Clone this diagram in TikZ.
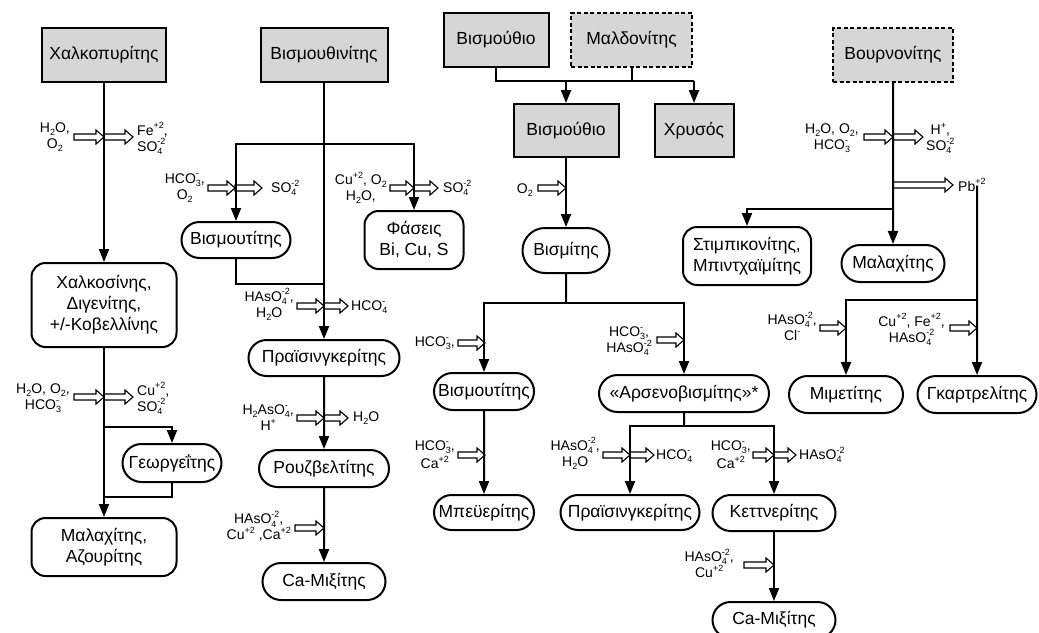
\documentclass[tikz,border=0pt]{standalone}
\usepackage{fontspec}
\setmainfont{Liberation Sans}
\usetikzlibrary{arrows.meta,shapes.misc}
\definecolor{ore}{RGB}{214,214,214}
\newcommand{\nodefont}{\fontsize{17.5}{21}\selectfont}
\newcommand{\chemfont}{\fontsize{14}{16}\selectfont}
\newcommand{\idxfont}{\fontsize{9}{9}\selectfont}
\newcommand{\ssub}[1]{\raisebox{-3pt}{\idxfont #1}}
\newcommand{\ssup}[1]{\raisebox{6.5pt}{\idxfont #1}}
\newcommand{\ion}[2]{\ooalign{\ssub{#1}\cr\ssup{#2}}}
\tikzset{
  >={Triangle[length=13pt,width=10pt]},
  mineral/.style={draw,fill=ore,line width=2pt,minimum width=#1,minimum height=54,
    font=\nodefont,inner sep=2pt},
  uncertain/.style={mineral=#1,dash pattern=on 4pt off 2.5pt},
  phase/.style={rounded rectangle,draw,line width=2pt,minimum width=#1,minimum height=37,
    font=\nodefont,inner sep=2pt},
  phasebox/.style={draw,rounded corners=14pt,line width=2pt,minimum width=#1,align=center,
    font=\nodefont,inner sep=2pt},
  flow/.style={->,line width=2pt},
  wire/.style={line width=2pt},
  chem/.style={font=\chemfont,align=center,inner sep=0pt},
  % hollow reagent arrow, #1 = length
  pics/hol/.style={code={
    \draw[line width=1.1pt,fill=white] (0,-3) -- ({#1-8},-3) -- ({#1-8},-7) -- (#1,0)
      -- ({#1-8},7) -- ({#1-8},3) -- (0,3) -- cycle;
  }},
}
\begin{document}
\begin{tikzpicture}[x=1pt,y=-1pt]
  \useasboundingbox (0,0) rectangle (1039,632);
  % primary minerals
  \node[mineral=124] (chalko) at (104,55) {Χαλκοπυρίτης};
  \node[mineral=127] (bismuthin) at (324,55) {Βισμουθινίτης};
  \node[mineral=105] (bi1) at (496,40) {Βισμούθιο};
  \node[uncertain=121] (mald) at (631.5,40) {Μαλδονίτης};
  \node[mineral=105,minimum height=53] (bi2) at (566,130.5) {Βισμούθιο};
  \node[mineral=79,minimum height=53] (gold) at (694,130.5) {Χρυσός};
  \node[uncertain=120] (bourn) at (893,55) {Βουρνονίτης};
  % secondary phases
  \node[phasebox=145,minimum height=84] (chalkos) at (104,305) {Χαλκοσίνης,\\Διγενίτης,\\+/-Κοβελλίνης};
  \node[phase=103,minimum height=38] (georg) at (172,463) {Γεωργεΐτης};
  \node[phasebox=145,minimum height=58] (malaz) at (104,547) {Μαλαχίτης,\\Αζουρίτης};
  \node[phase=113,minimum height=36] (bismut1) at (236,240) {Βισμουτίτης};
  \node[phasebox=99,minimum height=58] (phases) at (414,240) {Φάσεις\\Bi, Cu, S};
  \node[phase=155,minimum height=36] (prais1) at (324,358) {Πραϊσινγκερίτης};
  \node[phase=134] (rouz) at (324,468.5) {Ρουζβελτίτης};
  \node[phase=127] (camix1) at (324,581.5) {Ca-Μιξίτης};
  \node[phase=91,minimum height=45] (bismit) at (566,250.5) {Βισμίτης};
  \node[phase=104] (bismut2) at (484,391.5) {Βισμουτίτης};
  \node[phase=174] (arsen) at (684,393.5) {«Αρσενοβισμίτης»*};
  \node[phase=104,minimum height=35] (beyer) at (484,512.5) {Μπεϋερίτης};
  \node[phase=143,minimum height=35] (prais2) at (630,512.5) {Πραϊσινγκερίτης};
  \node[phase=127,minimum height=36] (kettn) at (774,513) {Κεττνερίτης};
  \node[phase=127,minimum height=36] (camix2) at (774,620) {Ca-Μιξίτης};
  \node[phasebox=128,minimum height=58] (stib) at (747,256) {Στιμπικονίτης,\\Μπιντχαϊμίτης};
  \node[phase=107] (malach2) at (893,263.5) {Μαλαχίτης};
  \node[phase=118] (mimet) at (846,394.5) {Μιμετίτης};
  \node[phase=123] (gkart) at (977,394.5) {Γκαρτρελίτης};

  % reagent arrows
  \foreach \x/\y/\l in {74/137/30,104/137/29,74/397/30,104/397/29,208/188/27,235/188/27,
      390/188/24,414/188/24,297/306/27,324/306/24,297/418/27,324/418/24,295/528/29,
      538/188/28,458/343/27,657/340/27,458/455/27,603/455/27,630/455/24,753/455/21,
      774/455/22,744/565/30,864/137/29,893/137/30,893/185/60,820/328/26,950/328/27}
    \pic at (\x,\y) {hol=\l};

  % reagents in / out
  \node[chem,anchor=east] (in1) at (70,137) {H\ssub{2}O,\\O\ssub{2}};
  \node[chem,anchor=west,align=left] (out1) at (137,137) {Fe\ssup{+2},\\SO\ion{4}{-2}};
  \node[chem,anchor=east] (in2) at (70,397) {H\ssub{2}O, O\ssub{2},\\HCO\ion{3}{-}};
  \node[chem,anchor=west,align=left] (out2) at (137,397) {Cu\ssup{+2},\\SO\ion{4}{-2}};
  \node[chem,anchor=east] (in3) at (205,188) {HCO\ion{3}{-},\\O\ssub{2}};
  \node[chem,anchor=west] (out3) at (271,188) {SO\ion{4}{-2}};
  \node[chem,anchor=east] (in4) at (387,188) {Cu\ssup{+2}, O\ssub{2}\\H\ssub{2}O,};
  \node[chem,anchor=west] (out4) at (443,188) {SO\ion{4}{-2}};
  \node[chem,anchor=east] (in5) at (294,306) {HAsO\ion{4}{-2},\\H\ssub{2}O};
  \node[chem,anchor=west] (out5) at (351,306) {HCO\ion{4}{-}};
  \node[chem,anchor=east] (in6) at (294,418) {H\ssub{2}AsO\ion{4}{-},\\H\ssup{+}};
  \node[chem,anchor=west] (out6) at (353,418) {H\ssub{2}O};
  \node[chem,anchor=east] (in7) at (291,528) {HAsO\ion{4}{-2},\\Cu\ssup{+2} ,Ca\ssup{+2}};
  \node[chem,anchor=east] (in8) at (533,190) {O\ssub{2}};
  \node[chem,anchor=east] (in9) at (455,343) {HCO\ion{3}{-},};
  \node[chem,anchor=east] (in10) at (652,340) {HCO\ion{3}{-},\\HAsO\ion{4}{-2}};
  \node[chem,anchor=east] (in11) at (455,455) {HCO\ion{3}{-},\\[2pt]Ca\ssup{+2}};
  \node[chem,anchor=east] (in12) at (600,455) {HAsO\ion{4}{-2},\\H\ssub{2}O};
  \node[chem,anchor=west] (out12) at (656,455) {HCO\ion{4}{-}};
  \node[chem,anchor=east] (in13) at (751,455) {HCO\ion{3}{-},\\[2pt]Ca\ssup{+2}};
  \node[chem,anchor=west] (out13) at (799,455) {HAsO\ion{4}{-2}};
  \node[chem,anchor=east] (in14) at (734,565) {HAsO\ion{4}{-2},\\Cu\ssup{+2}};
  \node[chem,anchor=east] (in15) at (859,137) {H\ssub{2}O, O\ssub{2},\\HCO\ion{3}{-}};
  \node[chem,anchor=west] (out15) at (926,137) {H\ssup{+},\\SO\ion{4}{-2}};
  \node[chem,anchor=west] (pb) at (958,185) {Pb\ssup{+2}};
  \node[chem,anchor=east] (in17) at (817,328) {HAsO\ion{4}{-2},\\Cl\ssup{-}};
  \node[chem,anchor=east] (in18) at (945,328) {Cu\ssup{+2}, Fe\ssup{+2},\\HAsO\ion{4}{-2}};

  % chalcopyrite
  \draw[flow] (chalko) -- (chalkos);
  \draw[flow] (chalkos) -- (malaz);
  \coordinate (g1) at (104,427);
  \coordinate (g2) at (104,497);
  \draw[flow] (g1) -| (georg);
  \draw[wire] (georg) |- (g2);
  % bismuthinite
  \draw[flow] (bismuthin) -- (prais1);
  \coordinate (b1) at (324,144);
  \coordinate (b2) at (324,284);
  \draw[flow] (b1) -| (bismut1);
  \draw[flow] (b1) -| (phases);
  \draw[wire] (bismut1) |- (b2);
  \draw[flow] (prais1) -- (rouz);
  \draw[flow] (rouz) -- (camix1);
  % native bismuth, maldonite
  \coordinate (m1) at (566,81);
  \draw[wire] (bi1) |- (m1 -| gold);
  \draw[wire] (mald) -- (mald |- m1);
  \draw[flow] (m1) -- (bi2);
  \draw[flow] (m1 -| gold) -- (gold);
  \draw[flow] (bi2) -- (bismit);
  \coordinate (s1) at (566,303);
  \draw[wire] (bismit) -- (s1);
  \draw[flow] (s1) -| (bismut2);
  \draw[flow] (s1) -| (arsen);
  \draw[flow] (bismut2) -- (beyer);
  \coordinate (a1) at (684,426);
  \draw[wire] (arsen) -- (a1);
  \draw[flow] (a1) -| (prais2);
  \draw[flow] (a1) -| (kettn);
  \draw[flow] (kettn) -- (camix2);
  % bournonite
  \draw[flow] (bourn) -- (malach2);
  \coordinate (u1) at (893,209);
  \draw[flow] (u1) -| (stib);
  \coordinate (p1) at (977,300);
  \draw[flow] ([yshift=6]pb.south -| p1) -- (gkart);
  \draw[flow] (p1) -| (mimet);
\end{tikzpicture}
\end{document}
